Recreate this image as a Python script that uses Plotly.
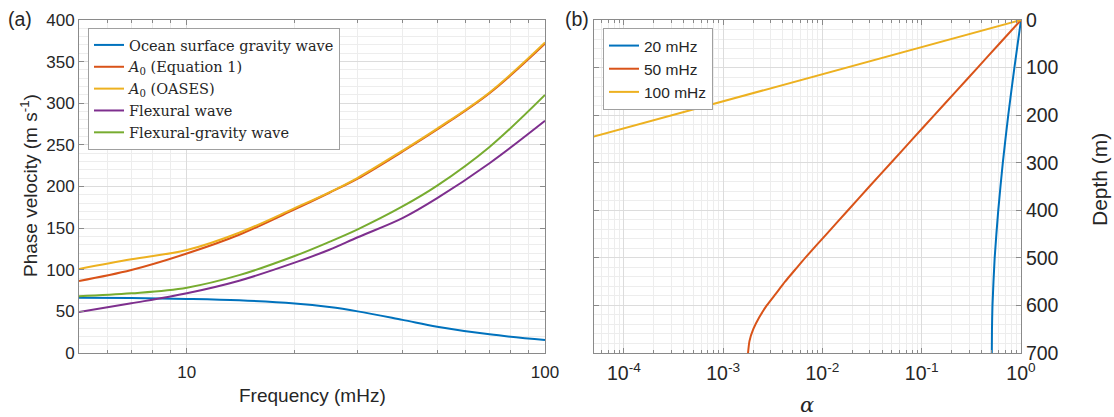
import numpy as np
import plotly.graph_objects as go

# ---------------- data: panel (a) ----------------
freq_mhz = [5, 7, 10, 14, 20, 25, 30, 40, 50, 70, 100]
ocean_gravity = [66.4, 66.0, 65.0, 63.3, 59.5, 55.2, 50.0, 39.8, 31.6, 22.4, 15.6]
a0_equation1 = [86.5, 99.7, 119.5, 142.0, 172.5, 192.5, 209.5, 242.0, 268.5, 312.0, 371.5]
a0_oases = [101.0, 112.5, 123.7, 144.5, 174.0, 193.0, 210.5, 243.0, 269.5, 313.0, 373.0]
flexural = [49.2, 59.7, 71.7, 86.8, 108.5, 124.0, 139.0, 162.0, 186.0, 228.0, 279.0]
flexural_gravity = [68.1, 71.7, 78.5, 93.5, 116.5, 133.5, 148.5, 176.0, 201.0, 247.5, 310.0]

# ---------------- data: panel (b) ----------------
depth_20 = [0, 100, 200, 300, 400, 500, 600, 650, 700]
alpha_20 = [1.0, 0.858, 0.744, 0.656, 0.59, 0.543, 0.516, 0.510, 0.508]
depth_50 = [0, 50, 100, 150, 200, 250, 300, 350, 400, 450, 500, 525, 550, 575, 600, 625, 650, 675, 700]
alpha_50 = [1.0, 0.605, 0.366, 0.2215, 0.134, 0.0811, 0.0491, 0.0297, 0.0181, 0.0110, 0.0067,
            0.0053, 0.0042, 0.0034, 0.00275, 0.00231, 0.00201, 0.00184, 0.00178]
depth_100 = [0, 50, 100, 150, 200, 250, 300]
alpha_100 = [1.0, 0.1326, 0.0176, 0.00234, 3.1e-4, 4.1e-5, 5.4e-6]

a_names = ["Ocean surface gravity wave", "<i>A</i><sub>0</sub> (Equation 1)",
           "<i>A</i><sub>0</sub> (OASES)", "Flexural wave", "Flexural-gravity wave"]
b_names = ["20 mHz", "50 mHz", "100 mHz"]
x_ticks_a = [10, 100]
x_ticks_b = [1e-4, 1e-3, 1e-2, 1e-1, 1]
x_ticktext_b = ["10<sup>-4</sup>", "10<sup>-3</sup>", "10<sup>-2</sup>", "10<sup>-1</sup>", "10<sup>0</sup>"]

# ---------------- styling ----------------
W, H = 1114, 417
C = ["#0072BD", "#D95319", "#EDB120", "#7E2F8E", "#77AC30"]
SANS = "Liberation Sans, Arial, Helvetica, sans-serif"
SERIF = "DejaVu Serif, Liberation Serif, serif"
TXT = "#262626"
AXC = "#8a8a8a"
GMAJ = "#dcdcdc"
GMIN = "#ededed"

def px(x):
    return x / W

def py(y):
    return 1 - y / H

fig = go.Figure()

a_series = [ocean_gravity, a0_equation1, a0_oases, flexural, flexural_gravity]
for i, (name, ys) in enumerate(zip(a_names, a_series)):
    fig.add_trace(go.Scatter(x=freq_mhz, y=ys, mode="lines", name=name,
                             line=dict(color=C[i], width=2, shape="spline", smoothing=1.0),
                             xaxis="x", yaxis="y", legend="legend"))

b_series = [(alpha_20, depth_20), (alpha_50, depth_50), (alpha_100, depth_100)]
for i, (name, (xs, ys)) in enumerate(zip(b_names, b_series)):
    shape = "linear" if i == 2 else "spline"
    fig.add_trace(go.Scatter(x=xs, y=ys, mode="lines", name=name,
                             line=dict(color=C[i], width=2, shape=shape, smoothing=0.6),
                             xaxis="x2", yaxis="y2", legend="legend2"))

minor_a = [5, 6, 7, 8, 9, 20, 30, 40, 50, 60, 70, 80, 90]
minor_b = [m * 10.0 ** k for k in range(-5, 0) for m in range(2, 10) if m * 10.0 ** k >= 5e-5]

def common(size):
    return dict(showline=True, linecolor=AXC, linewidth=1, mirror="ticks", ticks="inside",
                ticklen=5, tickcolor=AXC, showgrid=True, gridcolor=GMAJ, gridwidth=1,
                zeroline=False, automargin=False,
                tickfont=dict(family=SANS, size=size, color=TXT))

fig.update_layout(
    width=W, height=H, margin=dict(l=0, r=0, t=0, b=0),
    paper_bgcolor="white", plot_bgcolor="white", showlegend=True,
    xaxis=dict(domain=[px(79), px(545)], type="log", range=[np.log10(5), 2],
               tickmode="array", tickvals=x_ticks_a, ticktext=[str(v) for v in x_ticks_a],
               minor=dict(tickmode="array", tickvals=minor_a, ticks="inside", ticklen=3,
                          tickcolor=AXC, showgrid=True, gridcolor=GMIN),
               ticklabelstandoff=4, anchor="y", **common(17)),
    yaxis=dict(domain=[py(353), py(20)], range=[0, 400], tickmode="linear", tick0=0, dtick=50,
               minor=dict(dtick=10, ticks="", showgrid=True, gridcolor=GMIN),
               anchor="x", **common(17)),
    xaxis2=dict(domain=[px(594), px(1021)], type="log", range=[np.log10(5e-5), 0],
                tickmode="array", tickvals=x_ticks_b, ticktext=x_ticktext_b,
                minor=dict(tickmode="array", tickvals=minor_b, ticks="inside", ticklen=3,
                           tickcolor=AXC, showgrid=True, gridcolor=GMIN),
                ticklabelstandoff=3, anchor="y2", **common(19.5)),
    yaxis2=dict(domain=[py(353), py(20)], range=[700, 0], side="right", tickmode="linear",
                tick0=0, dtick=100,
                minor=dict(dtick=20, ticks="", showgrid=True, gridcolor=GMIN),
                anchor="x2", **common(19.5)),
    legend=dict(x=px(88), y=py(28), xanchor="left", yanchor="top",
                bgcolor="white", bordercolor="#a0a0a0", borderwidth=1,
                font=dict(family=SERIF, size=14.5, color=TXT), itemwidth=30),
    legend2=dict(x=px(603), y=py(28), xanchor="left", yanchor="top",
                 bgcolor="white", bordercolor="#a0a0a0", borderwidth=1,
                 font=dict(family=SANS, size=15.5, color=TXT), itemwidth=30),
)

annots = [
    dict(text="(a)", x=px(20), y=py(19), font=dict(family=SANS, size=19.5, color=TXT)),
    dict(text="(b)", x=px(577), y=py(19), font=dict(family=SANS, size=19.5, color=TXT)),
    dict(text="Phase velocity (m s<sup>-1</sup>)", x=px(29), y=py(186), textangle=-90,
         font=dict(family=SANS, size=19, color=TXT)),
    dict(text="Frequency (mHz)", x=px(312), y=py(395), font=dict(family=SANS, size=19, color=TXT)),
    dict(text="Depth (m)", x=px(1099), y=py(180), textangle=-90,
         font=dict(family=SANS, size=21, color=TXT)),
    dict(text="<i>α</i>", x=px(807), y=py(405), font=dict(family=SERIF, size=21, color=TXT)),
]
for a in annots:
    fig.add_annotation(xref="paper", yref="paper", showarrow=False,
                       xanchor="center", yanchor="middle", **a)

fig.write_html("out.html")
